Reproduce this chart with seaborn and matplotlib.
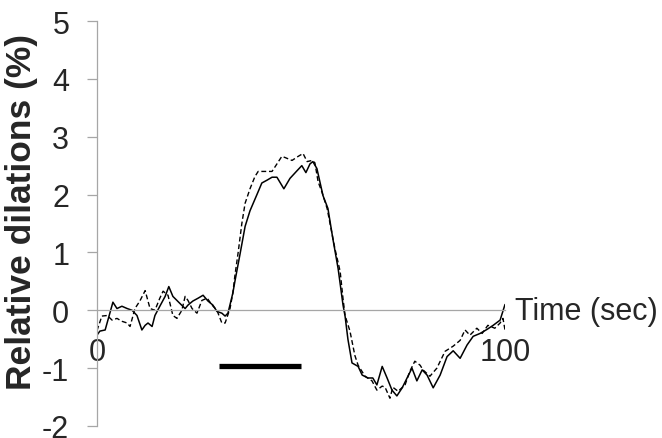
import matplotlib
matplotlib.use("Agg")
import matplotlib.pyplot as plt
import seaborn as sns
import pandas as pd

# Solid trace (time in sec, relative dilation in %)
solid_t = [0, 0.7, 2, 3.9, 4.9, 6.1, 7.4, 8.6, 9.8, 11, 11.8, 12.5, 13.5, 14.2, 15.4,
           16.7, 17.6, 18.6, 20.3, 21.6, 22.3, 23.5, 24.8, 26, 27.2, 28.4, 29.4, 30.6,
           31.4, 32.1, 33.3, 33.8, 35, 36.3, 37.5, 39.2, 40.4, 41.7, 42.9, 44.1, 45.8,
           47.3, 49, 50.2, 51.2, 52.2, 52.9, 53.9, 55.4, 56.6, 57.8, 59.1, 60.3, 60.8,
           61.5, 62.5, 64, 65, 66.4, 67.6, 68.6, 69.9, 71.1, 72.3, 73.5, 74.8, 76, 77.2,
           78.4, 79.7, 80.9, 82.4, 84.1, 85.8, 87.3, 89, 90.7, 92.2, 93.9, 95.6, 97.1,
           98.8, 100]
solid_v = [-0.43, -0.36, -0.34, 0.14, 0.03, 0.07, 0.03, 0.0, -0.09, -0.34, -0.26, -0.22,
           -0.28, -0.09, 0.07, 0.24, 0.41, 0.24, 0.12, 0.03, 0.09, 0.16, 0.21, 0.26, 0.16,
           0.09, -0.02, -0.05, -0.1, -0.05, 0.3, 0.5, 0.95, 1.45, 1.72, 2.0, 2.2, 2.25,
           2.3, 2.3, 2.1, 2.28, 2.41, 2.5, 2.38, 2.53, 2.57, 2.45, 1.98, 1.76, 1.24, 0.72,
           0.09, -0.1, -0.5, -0.91, -0.97, -1.12, -1.17, -1.17, -1.29, -0.97, -1.17, -1.38,
           -1.48, -1.34, -1.17, -1.0, -1.22, -1.03, -1.12, -1.34, -1.12, -0.8, -0.7, -0.83,
           -0.6, -0.45, -0.4, -0.33, -0.26, -0.17, 0.1]

# Dashed trace
dashed_t = [0, 1.2, 2.5, 3.7, 4.9, 6.1, 7.4, 8.1, 9.3, 10.5, 11.8, 13, 14.2, 15.4, 16.2,
            17.4, 18.6, 19.6, 20.8, 21.6, 22.3, 23.3, 24.5, 25.7, 27, 28.2, 29.4, 30.6,
            31.4, 32.6, 33.3, 33.8, 34.6, 35.5, 36.3, 37.5, 38.7, 39.5, 41.7, 42.9, 44.1,
            45.3, 46.1, 47.8, 49.3, 50.5, 51.5, 52.7, 53.4, 54.2, 55.1, 56.4, 58.3, 59.6,
            60.3, 60.8, 62, 63.2, 64, 65.7, 67.4, 68.6, 69.9, 70.6, 71.8, 72.5, 73.8, 75.5,
            76.7, 77.9, 79.2, 79.9, 81.6, 83.3, 85.3, 87.3, 89, 90.2, 91.4, 93.1, 94.4,
            95.8, 97.5, 98.8, 99.5, 100]
dashed_v = [-0.35, -0.1, -0.09, -0.17, -0.14, -0.19, -0.22, -0.28, 0.03, 0.16, 0.34, 0.03,
            0.0, 0.21, 0.33, 0.26, -0.09, -0.14, 0.0, 0.24, 0.17, 0.03, -0.05, 0.17, 0.21,
            0.09, 0.0, -0.22, -0.22, 0.03, 0.3, 0.6, 1.0, 1.5, 1.85, 2.1, 2.31, 2.4, 2.4,
            2.4, 2.53, 2.66, 2.64, 2.59, 2.66, 2.71, 2.57, 2.59, 2.55, 2.22, 2.05, 1.76,
            1.07, 0.67, 0.2, -0.09, -0.36, -0.78, -0.95, -1.14, -1.22, -1.38, -1.31, -1.33,
            -1.52, -1.33, -1.4, -1.29, -1.05, -0.88, -0.95, -1.03, -1.14, -1.0, -0.71, -0.62,
            -0.52, -0.34, -0.43, -0.31, -0.4, -0.26, -0.31, -0.22, -0.14, -0.34]

# Stimulus bar (sec) and its level
stim_t = [30, 50]
stim_v = [-0.97, -0.97]

y_ticks = [-2, -1, 0, 1, 2, 3, 4, 5]
x_ticks = [0, 100]

sns.set_style("white")
plt.rcParams["font.family"] = ["Liberation Sans", "DejaVu Sans"]

fig = plt.figure(figsize=(6.62, 4.39), dpi=100)
ax = fig.add_axes([97 / 662, 12 / 439, 408 / 662, 405 / 439])

df_solid = pd.DataFrame({"t": solid_t, "v": solid_v})
df_dashed = pd.DataFrame({"t": dashed_t, "v": dashed_v})
df_stim = pd.DataFrame({"t": stim_t, "v": stim_v})

sns.lineplot(data=df_dashed, x="t", y="v", ax=ax, color="black", lw=1.0,
             estimator=None, sort=False, dashes=False, linestyle=(0, (3.5, 2)))
sns.lineplot(data=df_solid, x="t", y="v", ax=ax, color="black", lw=1.1,
             estimator=None, sort=False)
sns.lineplot(data=df_stim, x="t", y="v", ax=ax, color="black", lw=3.8,
             estimator=None, sort=False, solid_capstyle="butt")

ax.set_xlim(0, 100)
ax.set_ylim(-2, 5)

gray = "#a6a6a6"
for s in ["top", "right"]:
    ax.spines[s].set_visible(False)
ax.spines["left"].set_color(gray)
ax.spines["left"].set_linewidth(0.9)
ax.spines["bottom"].set_position(("data", 0))
ax.spines["bottom"].set_color(gray)
ax.spines["bottom"].set_linewidth(0.9)

ax.set_yticks(y_ticks)
ax.set_yticklabels([str(v) for v in y_ticks])
ax.set_xticks(x_ticks)
ax.set_xticklabels([str(v) for v in x_ticks])
ax.tick_params(axis="y", direction="out", length=7, width=0.9, color=gray,
               labelsize=22, pad=13, left=True)
ax.tick_params(axis="x", length=0, labelsize=22, pad=19, bottom=True)

ax.set_ylabel("Relative dilations (%)", fontsize=25.5, fontweight="bold", va="center")
ax.yaxis.set_label_coords((22 - 97) / 408, (427 - 212) / 405)
ax.set_xlabel("Time (sec)", fontsize=22, ha="left", va="center")
ax.xaxis.set_label_coords(1.025, (427 - 312) / 405)

fig.savefig("out.png", dpi=100)
